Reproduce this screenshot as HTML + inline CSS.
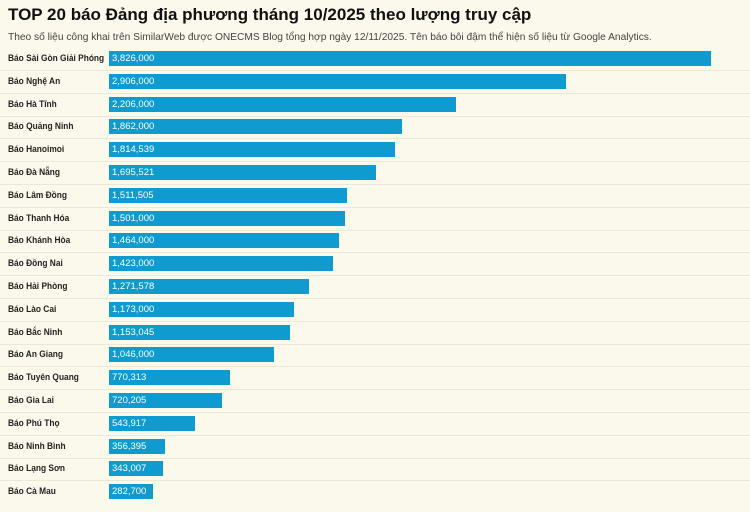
<!DOCTYPE html><html><head><meta charset="utf-8"><style>
body{margin:0;width:750px;height:512px;background:#fbf8ec;font-family:"Liberation Sans",sans-serif;position:relative;overflow:hidden}
.t{position:absolute;left:8px;top:5px;font-size:17px;font-weight:bold;color:#111}
.s{position:absolute;left:8px;top:32px;font-size:10.2px;color:#444}
.r{position:absolute;left:0;width:750px;height:23px}
.r .l{position:absolute;left:8px;top:2px;font-size:9.5px;font-weight:bold;color:#222;white-space:nowrap;transform:scaleX(0.88);transform-origin:left}
.r .b{position:absolute;left:109px;top:0;height:15px;background:#0f9bcf}
.r .b span{position:absolute;left:3px;top:2px;font-size:9.5px;color:#fff}
.sep{position:absolute;left:0;width:750px;height:1px;background:#ece8d8}
</style></head><body>
<div class="t">TOP 20 báo Đảng địa phương tháng 10/2025 theo lượng truy cập</div>
<div class="s">Theo số liệu công khai trên SimilarWeb được ONECMS Blog tổng hợp ngày 12/11/2025. Tên báo bôi đậm thể hiện số liệu từ Google Analytics.</div>
<div id="c"></div>
<script>
var d=[["Báo Sài Gòn Giải Phóng",3826000],["Báo Nghệ An",2906000],["Báo Hà Tĩnh",2206000],["Báo Quảng Ninh",1862000],["Báo Hanoimoi",1814539],["Báo Đà Nẵng",1695521],["Báo Lâm Đồng",1511505],["Báo Thanh Hóa",1501000],["Báo Khánh Hòa",1464000],["Báo Đồng Nai",1423000],["Báo Hải Phòng",1271578],["Báo Lào Cai",1173000],["Báo Bắc Ninh",1153045],["Báo An Giang",1046000],["Báo Tuyên Quang",770313],["Báo Gia Lai",720205],["Báo Phú Thọ",543917],["Báo Ninh Bình",356395],["Báo Lạng Sơn",343007],["Báo Cà Mau",282700]];
var h="";d.forEach(function(x,i){var y=51+i*22.8;var w=x[1]*602/3826000;
h+='<div class="r" style="top:'+y+'px"><div class="l">'+x[0]+'</div><div class="b" style="width:'+w+'px"><span>'+x[1].toLocaleString("en-US")+'</span></div></div>';
if(i<19)h+='<div class="sep" style="top:'+(y+19)+'px"></div>';});
document.getElementById("c").innerHTML=h;
</script>
</body></html>
